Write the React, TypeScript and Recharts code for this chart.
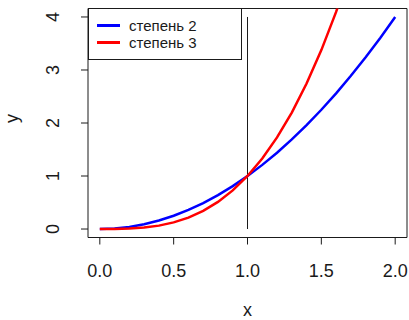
import { LineChart, Line, XAxis, YAxis, ReferenceLine, ReferenceArea } from "recharts";

const xs = [0, 0.1, 0.2, 0.3, 0.4, 0.5, 0.6, 0.7, 0.8, 0.9, 1, 1.1, 1.2, 1.3, 1.4, 1.5, 1.6, 1.7, 1.8, 1.9, 2];
const deg2 = [0, 0.01, 0.04, 0.09, 0.16, 0.25, 0.36, 0.49, 0.64, 0.81, 1, 1.21, 1.44, 1.69, 1.96, 2.25, 2.56, 2.89, 3.24, 3.61, 4];
const deg3 = [0, 0.001, 0.008, 0.027, 0.064, 0.125, 0.216, 0.343, 0.512, 0.729, 1, 1.331, 1.728, 2.197, 2.744, 3.375, 4.096, 4.913, 5.832, 6.859, 8];
const xTicks = [0, 0.5, 1, 1.5, 2];
const yTicks = [0, 1, 2, 3, 4];
const seriesNames = ["степень 2", "степень 3"];
const seriesColors = ["#0000ff", "#ff0000"];

const data = xs.map((x, i) => ({ x, s2: deg2[i], s3: deg3[i] }));

const font = "'Liberation Sans', Arial, sans-serif";
const ink = "#1a1a1a";

const XTick = ({ x, y, payload }: any) => (
  <text x={x} y={y + 30} textAnchor="middle" fontSize={18} fill={ink} fontFamily={font}>
    {Number(payload.value).toFixed(1)}
  </text>
);

const YTick = ({ x, y, payload }: any) => (
  <text
    x={x - 20}
    y={y}
    transform={`rotate(-90, ${x - 20}, ${y})`}
    textAnchor="middle"
    fontSize={18}
    fill={ink}
    fontFamily={font}
  >
    {payload.value}
  </text>
);

export default function App() {
  return (
    <div style={{ position: "absolute", left: 0, top: 0, width: 409, height: 320, background: "#fff" }}>
      <LineChart width={409} height={320} data={data} margin={{ top: 8.5, right: 2, bottom: 0, left: 0 }}>
        <XAxis
          dataKey="x"
          type="number"
          domain={[-0.08, 2.08]}
          ticks={xTicks}
          axisLine={false}
          tickSize={7}
          tickLine={{ stroke: ink }}
          tick={<XTick />}
          height={82.5}
          label={{ value: "x", position: "insideBottom", offset: 4, fontSize: 18, fill: ink, fontFamily: font }}
        />
        <YAxis
          type="number"
          domain={[-0.16, 4.16]}
          allowDataOverflow
          ticks={yTicks}
          axisLine={false}
          tickSize={7}
          tickLine={{ stroke: ink }}
          tick={<YTick />}
          width={88}
          label={{ value: "y", angle: -90, position: "insideLeft", offset: 12, fontSize: 18, fill: ink, fontFamily: font }}
        />
        <ReferenceArea x1={-0.08} x2={2.08} y1={-0.16} y2={4.16} fill="none" fillOpacity={0} stroke={ink} strokeWidth={1} />
        <ReferenceLine segment={[{ x: 1, y: 0 }, { x: 1, y: 4 }]} stroke={ink} strokeWidth={1} />
        <Line dataKey="s2" stroke={seriesColors[0]} strokeWidth={2.5} dot={false} isAnimationActive={false} />
        <Line dataKey="s3" stroke={seriesColors[1]} strokeWidth={2.5} dot={false} isAnimationActive={false} />
      </LineChart>
      <div
        style={{
          position: "absolute",
          left: 88,
          top: 8,
          width: 154,
          height: 52,
          border: `1px solid ${ink}`,
          background: "#fff",
          fontFamily: font,
          fontSize: 15,
          color: ink,
          boxSizing: "border-box",
        }}
      >
        {seriesNames.map((name, i) => (
          <div key={name} style={{ position: "absolute", left: 8, top: 8 + i * 17, display: "flex", alignItems: "center", height: 17 }}>
            <div style={{ width: 23, height: 2.5, background: seriesColors[i] }} />
            <span style={{ marginLeft: 9 }}>{name}</span>
          </div>
        ))}
      </div>
    </div>
  );
}
